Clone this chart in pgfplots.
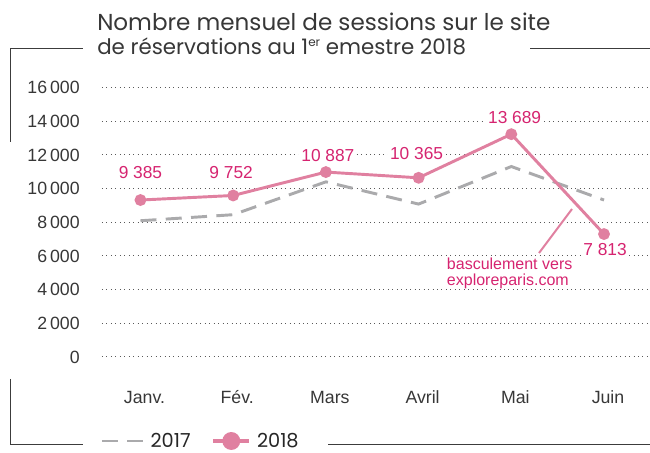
\documentclass[border=0pt]{standalone}
\usepackage{fontspec}
\setmainfont{Liberation Sans}
\newfontfamily\titlefont{Poppins}
\usepackage{pgfplots}
\pgfplotsset{compat=1.18}
\definecolor{pinkline}{RGB}{224,128,160}
\definecolor{pinktext}{RGB}{214,36,112}
\definecolor{dashgray}{RGB}{170,170,172}
\definecolor{framegray}{RGB}{60,60,60}
\definecolor{textgray}{RGB}{55,55,55}

\pgfplotsset{lbl/.style 2 args={draw=none, mark=none, forget plot,
  point meta=explicit symbolic, nodes near coords,
  every node near coord/.append style={anchor=center, fill=white, inner sep=1.5pt, text=pinktext,
     font=\fontsize{13}{13}\selectfont, xshift=#1, yshift=#2}}}

\begin{document}
\begin{tikzpicture}
\begin{axis}[
  at={(0pt,0pt)}, anchor=south west, scale only axis,
  width=411pt, height=202.1pt,
  xmin=-0.415, xmax=5.496, ymin=0, ymax=16000,
  axis line style={draw=none}, major tick length=0pt,
  xtick={0,...,5}, xticklabels={Janv.,Fév.,Mars,Avril,Mai,Juin},
  ytick={0,2000,...,16000},
  scaled y ticks=false,
  ymajorgrids,
  grid style={dash pattern=on 0.75pt off 2.6pt, line width=0.75pt, color=black!65},
  yticklabel style={font=\fontsize{13.3}{14}\selectfont, text=textgray, anchor=east, inner sep=0pt, xshift=-16.5pt},
  xticklabel style={font=\fontsize{13.3}{14}\selectfont, text=textgray, anchor=center, inner sep=0pt, yshift=-30pt, xshift=3pt},
  /pgf/number format/assume math mode=true,
  /pgf/number format/1000 sep={\,},
  clip=false,
  legend columns=2,
  legend style={at={(-0.0036,-0.3117)}, anchor=west, draw=none, fill=none,
    inner sep=0pt, font=\titlefont\fontsize{14.5}{15}\selectfont, text=black!85,
    nodes={inner sep=0pt, anchor=west},
    /tikz/every odd column/.append style={column sep=4.5pt},
    /tikz/every even column/.append style={column sep=15.75pt}},
]
\coordinate (O) at (rel axis cs:0,0);
\addplot[dashgray, line width=2.2pt, dash pattern=on 12pt off 7pt,
  legend image code/.code={\draw[dashgray, line width=2.2pt, dash pattern=on 12pt off 7pt] (0pt,0pt) -- (31pt,0pt);}]
  coordinates {(0,8090) (1,8450) (2,10400) (3,9080) (4,11310) (5,9320)};
\addlegendentry{2017}
\addplot[pinkline, line width=2.2pt, mark=*, mark size=3.3pt, mark options={fill=pinkline, draw=pinkline, solid},
  legend image code/.code={\draw[pinkline, line width=2.6pt] (0pt,0pt) -- (27pt,0pt); \fill[pinkline] (13.5pt,0pt) circle (5.6pt);}]
  coordinates {(0,9320) (1,9590) (2,10980) (3,10640) (4,13230) (5,7300)};
\addlegendentry{2018}
% value labels
\addplot[lbl={0pt}{20.25pt}] coordinates {(0,9320) [9 385]};
\addplot[lbl={-1.5pt}{17.25pt}] coordinates {(1,9590) [9 752]};
\addplot[lbl={1.5pt}{12.75pt}] coordinates {(2,10980) [10 887]};
\addplot[lbl={-1.5pt}{18pt}] coordinates {(3,10640) [10 365]};
\addplot[lbl={2.5pt}{12.75pt}] coordinates {(4,13230) [13 689]};
\addplot[lbl={0.75pt}{-11.25pt}] coordinates {(5,7300) [7 813]};
\end{axis}
\pgfresetboundingbox
\begin{scope}[shift={(O)}]
\begin{scope}[xshift=-76.5pt, yshift=-72pt, x=0.75pt, y=0.75pt]
\path[use as bounding box] (0,0) rectangle (650,453);
% frame
\draw[framegray, line width=0.75pt] (83,404) -- (11,404) -- (11,311);
\draw[framegray, line width=0.75pt] (530,404) -- (650,404);
\draw[framegray, line width=0.75pt] (11,74) -- (11,8) -- (83,8);
\draw[framegray, line width=0.75pt] (328,8) -- (650,8);
% title
\node[anchor=base west, inner sep=0pt, text=textgray, font=\titlefont\fontsize{17.3}{18}\selectfont] at (97,422.3) {Nombre mensuel de sessions sur le site};
\node[anchor=base west, inner sep=0pt, text=textgray, font=\titlefont\fontsize{16}{17}\selectfont] at (97,398) {de réservations au 1\raisebox{0.75ex}{\fontsize{9}{9}\selectfont er} emestre 2018};
% annotation
\draw[pinkline, line width=1.5pt] (539,200) -- (572,244);
\node[anchor=west, align=left, inner sep=0pt, text=pinktext, font=\fontsize{12}{12}\selectfont] at (446.7,179.3) {basculement vers\\exploreparis.com};
\end{scope}
\end{scope}
\end{tikzpicture}
\end{document}
